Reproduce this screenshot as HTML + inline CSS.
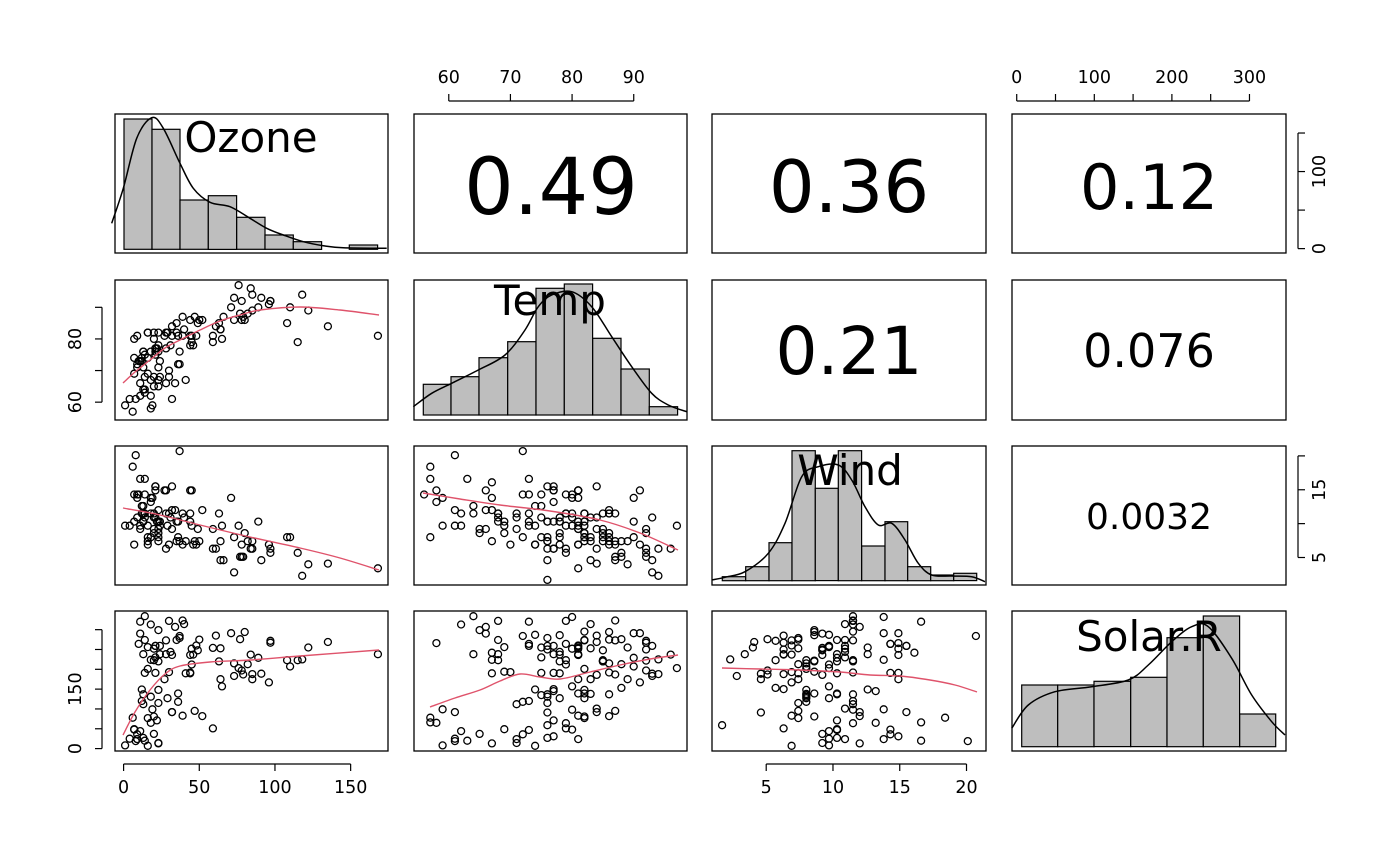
<!DOCTYPE html>
<html><head><meta charset="utf-8"><style>
html,body{margin:0;padding:0;background:#fff;}
svg{display:block;font-family:"DejaVu Sans","Liberation Sans",sans-serif;}
</style></head><body>
<svg id="s" width="1400" height="866" viewBox="0 0 1400 866" xmlns="http://www.w3.org/2000/svg">
<rect width="1400" height="866" fill="#fff"/>
<g id="g"></g>
<text x="551" y="214" font-size="78" text-anchor="middle">0.49</text>
<text x="849" y="212" font-size="72" text-anchor="middle">0.36</text>
<text x="1149" y="209" font-size="62" text-anchor="middle">0.12</text>
<text x="849" y="374" font-size="66" text-anchor="middle">0.21</text>
<text x="1149" y="367" font-size="46" text-anchor="middle">0.076</text>
<text x="1149" y="529" font-size="36" text-anchor="middle">0.0032</text>
<text x="251" y="152" font-size="42" text-anchor="middle">Ozone</text>
<text x="550" y="315" font-size="42" text-anchor="middle">Temp</text>
<text x="850" y="485" font-size="42" text-anchor="middle">Wind</text>
<text x="1149" y="651" font-size="42" text-anchor="middle">Solar.R</text>
</svg>
<script>
var NA=null;
var oz=[41,36,12,18,NA,28,23,19,8,NA,7,16,11,14,18,14,34,6,30,11,1,11,4,32,NA,NA,NA,23,45,115,37,NA,NA,NA,NA,NA,NA,29,NA,71,39,NA,NA,23,NA,NA,21,37,20,12,13,NA,NA,NA,NA,NA,NA,NA,NA,NA,NA,135,49,32,NA,64,40,77,97,97,85,NA,10,27,NA,7,48,35,61,79,63,16,NA,NA,80,108,20,52,82,50,64,59,39,9,16,78,35,66,122,89,110,NA,NA,44,28,65,NA,22,59,23,31,44,21,9,NA,45,168,73,NA,76,118,84,85,96,78,73,91,47,32,20,23,21,24,44,21,28,9,13,46,18,13,24,16,13,23,36,7,14,30,NA,14,18,20];
var so=[190,118,149,313,NA,NA,299,99,19,194,NA,256,290,274,65,334,307,78,322,44,8,320,25,92,66,266,NA,13,252,223,279,286,287,242,186,220,264,127,273,291,323,259,250,148,332,322,191,284,37,120,137,150,59,91,250,135,127,47,98,31,138,269,248,236,101,175,314,276,267,272,175,139,264,175,291,48,260,274,285,187,220,7,258,295,294,223,81,82,213,275,253,254,83,24,77,NA,NA,NA,255,229,207,222,137,192,273,157,64,71,51,115,244,190,259,36,255,212,238,215,153,203,225,237,188,167,197,183,189,95,92,252,220,230,259,236,259,238,24,112,237,224,27,238,201,238,14,139,49,20,193,145,191,131,223];
var wi=[7.4,8,12.6,11.5,14.3,14.9,8.6,13.8,20.1,8.6,6.9,9.7,9.2,10.9,13.2,11.5,12,18.4,11.5,9.7,9.7,16.6,9.7,12,16.6,14.9,8,12,14.9,5.7,7.4,8.6,9.7,16.1,9.2,8.6,14.3,9.7,6.9,13.8,11.5,10.9,9.2,8,13.8,11.5,14.9,20.7,9.2,11.5,10.3,6.3,1.7,4.6,6.3,8,8,10.3,11.5,14.9,8,4.1,9.2,9.2,10.9,4.6,10.9,5.1,6.3,5.7,7.4,8.6,14.3,14.9,14.9,14.3,6.9,10.3,6.3,5.1,11.5,6.9,9.7,11.5,8.6,8,8.6,12,7.4,7.4,7.4,9.2,6.9,13.8,7.4,6.9,7.4,4.6,4,10.3,8,8.6,11.5,11.5,11.5,9.7,11.5,10.3,6.3,7.4,10.9,10.3,15.5,14.3,12.6,9.7,3.4,8,5.7,9.7,2.3,6.3,6.3,6.9,5.1,2.8,4.6,7.4,15.5,10.9,10.3,10.9,9.7,14.9,15.5,6.3,10.9,11.5,6.9,13.8,10.3,10.3,8,12.6,9.2,10.3,10.3,16.6,6.9,13.2,14.3,8,11.5];
var te=[67,72,74,62,56,66,65,59,61,69,74,69,66,68,58,64,66,57,68,62,59,73,61,61,57,58,57,67,81,79,76,78,74,67,84,85,79,82,87,90,87,93,92,82,80,79,77,72,65,73,76,77,76,76,76,75,78,73,80,77,83,84,85,81,84,83,83,88,92,92,89,82,73,81,91,80,81,82,84,87,85,74,81,82,86,85,82,86,88,86,83,81,81,81,82,86,85,87,89,90,90,92,86,86,82,80,79,77,79,76,78,78,77,72,75,79,81,86,88,97,94,96,94,91,92,93,93,87,84,80,78,75,73,81,76,77,71,71,78,67,76,68,82,64,71,81,69,63,70,77,75,76,68];
var V=[oz,te,wi,so];
var X0=[115,414,712,1012],Y0=[114,280,446,611],W=[273,273,274,274],H=[139,140,139,140];
var R=V.map(function(a){var b=a.filter(function(v){return v!==null});var lo=Math.min.apply(null,b),hi=Math.max.apply(null,b),r=hi-lo;return [lo-0.04*r,hi+0.04*r];});
function mx(c,v){return X0[c]+(v-R[c][0])/(R[c][1]-R[c][0])*W[c];}
function my(r,v){return Y0[r]+H[r]-(v-R[r][0])/(R[r][1]-R[r][0])*H[r];}
var o='';
for(var r=0;r<4;r++)for(var c=0;c<4;c++){o+='<rect x="'+X0[c]+'" y="'+Y0[r]+'" width="'+W[c]+'" height="'+H[r]+'" fill="none" stroke="#000" stroke-width="1.3"/>';}
for(var r=1;r<4;r++)for(var c=0;c<r;c++){
 for(var k=0;k<153;k++){var a=V[c][k],b=V[r][k];if(a===null||b===null)continue;
  o+='<circle cx="'+mx(c,a).toFixed(1)+'" cy="'+my(r,b).toFixed(1)+'" r="3.5" fill="none" stroke="#000" stroke-width="1.3"/>';}
}
function pl(p,st,sw){p=p.map(function(q){return [+q[0],+q[1]]});
 var d='M'+p[0][0]+','+p[0][1];
 for(var i=0;i<p.length-1;i++){var p0=p[i-1]||p[i],p1=p[i],p2=p[i+1],p3=p[i+2]||p2;
  var c1=[p1[0]+(p2[0]-p0[0])/6,p1[1]+(p2[1]-p0[1])/6],c2=[p2[0]-(p3[0]-p1[0])/6,p2[1]-(p3[1]-p1[1])/6];
  d+=' C'+c1[0].toFixed(1)+','+c1[1].toFixed(1)+' '+c2[0].toFixed(1)+','+c2[1].toFixed(1)+' '+p2[0].toFixed(1)+','+p2[1].toFixed(1);}
 return '<path d="'+d+'" fill="none" stroke="'+st+'" stroke-width="'+(sw||1.4)+'"/>';}
var red='#DF536B';
o+=pl([[123,383],[135,372],[150,360],[165,348],[180,340],[200,330],[220,321],[240,315],[260,310],[300,307],[340,310],[379,315]],red);
o+=pl([[123,508],[160,515],[200,525],[250,537],[300,548],[340,558],[379,570]],red);
o+=pl([[423,493],[460,499],[500,505],[550,511],[600,520],[640,533],[678,550]],red);
o+=pl([[123,735],[135,712],[150,690],[165,674],[180,666],[210,662],[250,660],[300,656],[379,650]],red);
o+=pl([[430,707],[455,698],[480,690],[500,681],[520,674],[540,677],[560,679],[590,672],[620,665],[650,659],[678,655]],red);
o+=pl([[722,668],[760,669],[800,670],[840,672],[870,675],[900,676],[930,680],[955,685],[977,692]],red);
function hist(ox,oy,xs,tops,bot,curve){
 for(var i=0;i<tops.length;i++){if(tops[i]===null)continue;var x1=ox+xs[i]/3,x2=ox+xs[i+1]/3,t=oy+tops[i]/3,b=oy+bot/3;
  o+='<rect x="'+x1.toFixed(1)+'" y="'+t.toFixed(1)+'" width="'+(x2-x1).toFixed(1)+'" height="'+(b-t).toFixed(1)+'" fill="#bebebe" stroke="#000" stroke-width="1.2"/>';}
 o+=pl(curve.map(function(q){return [(ox+q[0]/3).toFixed(1),(oy+q[1]/3).toFixed(1)]}),'#000',1.5);
}
hist(110,105,[42,126,210,295,380,465,550,635,718,803],[42,73,285,272,337,390,410,null,420],433,
 [[5,355],[40,250],[80,100],[125,38],[160,70],[210,175],[250,250],[300,292],[360,305],[420,340],[470,370],[520,390],[580,410],[640,422],[700,428],[830,430]]);
hist(405,270,[55,138,222,308,393,478,563,648,733,818],[343,320,263,215,55,42,205,297,410],435,
 [[25,410],[80,370],[140,340],[220,300],[300,255],[360,180],[400,110],[440,75],[500,65],[560,110],[620,200],[680,290],[740,370],[790,405],[845,425]]);
hist(705,440,[52,122,192,261,331,400,470,540,608,677,746,815],[410,380,308,32,145,32,318,245,380,405,400],422,
 [[20,420],[60,412],[120,395],[190,340],[240,250],[290,110],[340,80],[400,75],[440,120],[480,200],[520,255],[560,250],[600,300],[640,370],[680,405],[740,408],[800,410],[840,425]]);
hist(1005,605,[50,158,267,377,486,595,704,812],[240,240,229,217,98,33,327],425,
 [[20,370],[70,300],[150,260],[260,245],[370,225],[430,180],[500,110],[560,65],[610,65],[680,160],[740,270],[800,350],[840,390]]);
var ax='stroke="#000" stroke-width="1.2"';
function hax(c,y,dir,ticks,labs,ly){var x1=mx(c,ticks[0]),x2=mx(c,ticks[ticks.length-1]);
 o+='<line x1="'+x1+'" y1="'+y+'" x2="'+x2+'" y2="'+y+'" '+ax+'/>';
 ticks.forEach(function(t){var x=mx(c,t);o+='<line x1="'+x+'" y1="'+y+'" x2="'+x+'" y2="'+(y+dir*7)+'" '+ax+'/>';});
 labs.forEach(function(t){o+='<text x="'+mx(c,t)+'" y="'+ly+'" font-size="17.5" text-anchor="middle">'+t+'</text>';});}
function vax(r,x,dir,ticks,labs,lx){var y1=my(r,ticks[0]),y2=my(r,ticks[ticks.length-1]);
 o+='<line x1="'+x+'" y1="'+y1+'" x2="'+x+'" y2="'+y2+'" '+ax+'/>';
 ticks.forEach(function(t){var y=my(r,t);o+='<line x1="'+x+'" y1="'+y+'" x2="'+(x+dir*7)+'" y2="'+y+'" '+ax+'/>';});
 labs.forEach(function(t){var y=my(r,t);o+='<text transform="translate('+lx+','+y+') rotate(-90)" font-size="17.5" text-anchor="middle">'+t+'</text>';});}
hax(1,101,-1,[60,70,80,90],[60,70,80,90],83);
hax(3,101,-1,[0,50,100,150,200,250,300],[0,100,200,300],83);
hax(0,764,1,[0,50,100,150],[0,50,100,150],793);
hax(2,764,1,[5,10,15,20],[5,10,15,20],793);
vax(0,1298,1,[0,50,100,150],[0,100],1325);
vax(2,1298,1,[5,10,15,20],[5,15],1325);
vax(1,102,-1,[60,70,80,90],[60,80],81);
vax(3,102,-1,[0,50,100,150,200,250,300],[0,150],81);
document.getElementById('g').innerHTML=o;
</script>
</body></html>
